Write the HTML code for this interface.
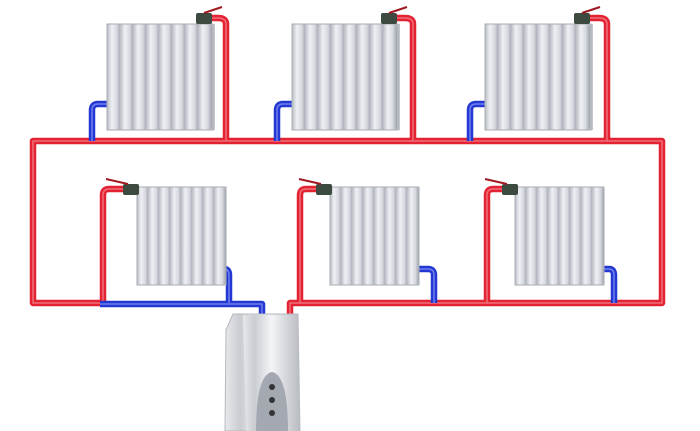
<!DOCTYPE html>
<html><head><meta charset="utf-8"><style>html,body{margin:0;padding:0;background:#fff}svg{display:block}</style></head>
<body>
<svg width="700" height="431" viewBox="0 0 700 431" xmlns="http://www.w3.org/2000/svg">
<defs>
<linearGradient id="sec" x1="0" x2="1" y1="0" y2="0">
<stop offset="0" stop-color="#b9bcc4"/><stop offset="0.35" stop-color="#eef0f4"/><stop offset="0.7" stop-color="#d6d9df"/><stop offset="1" stop-color="#9da1aa"/>
</linearGradient>
<linearGradient id="boil" x1="0" x2="1" y1="0" y2="0">
<stop offset="0" stop-color="#e8e9ec"/><stop offset="0.2" stop-color="#c9ccd1"/><stop offset="0.5" stop-color="#f4f5f7"/><stop offset="1" stop-color="#b8bbc1"/>
</linearGradient>
<g id="rad">
<rect x="0" y="0" width="108" height="106" fill="#c4c7cd"/>
<rect x="0" y="0" width="14" height="106" rx="3" fill="url(#sec)"/>
<rect x="13" y="0" width="14" height="106" rx="3" fill="url(#sec)"/>
<rect x="26" y="0" width="14" height="106" rx="3" fill="url(#sec)"/>
<rect x="39" y="0" width="14" height="106" rx="3" fill="url(#sec)"/>
<rect x="52" y="0" width="14" height="106" rx="3" fill="url(#sec)"/>
<rect x="65" y="0" width="14" height="106" rx="3" fill="url(#sec)"/>
<rect x="78" y="0" width="14" height="106" rx="3" fill="url(#sec)"/>
<rect x="91" y="0" width="14" height="106" rx="3" fill="url(#sec)"/>
<rect x="0" y="0" width="106" height="106" fill="none" stroke="#a8abb2" stroke-width="1"/>
</g>
<g id="radb">
<rect x="0" y="0" width="88" height="98" fill="#c4c7cd"/>
<rect x="0" y="0" width="12" height="98" rx="3" fill="url(#sec)"/>
<rect x="11" y="0" width="12" height="98" rx="3" fill="url(#sec)"/>
<rect x="22" y="0" width="12" height="98" rx="3" fill="url(#sec)"/>
<rect x="33" y="0" width="12" height="98" rx="3" fill="url(#sec)"/>
<rect x="44" y="0" width="12" height="98" rx="3" fill="url(#sec)"/>
<rect x="55" y="0" width="12" height="98" rx="3" fill="url(#sec)"/>
<rect x="66" y="0" width="12" height="98" rx="3" fill="url(#sec)"/>
<rect x="77" y="0" width="12" height="98" rx="3" fill="url(#sec)"/>
<rect x="0" y="0" width="89" height="98" fill="none" stroke="#a8abb2" stroke-width="1"/>
</g>
<g id="red">
<path d="M100 303 H33 V141 H662 V303 H290 V316"/>
<path d="M226 141 V24 Q226 18 218 18 H205"/>
<path d="M413 141 V24 Q413 18 405 18 H392"/>
<path d="M607 141 V24 Q607 18 599 18 H586"/>
<path d="M103 303 V195 Q103 189 109 189 H125"/>
<path d="M300 303 V195 Q300 189 306 189 H320"/>
<path d="M487 303 V195 Q487 189 493 189 H507"/>
</g>
<g id="blue">
<path d="M262 316 V304 H100"/>
<path d="M92 141 V110 Q92 104 98 104 H108"/>
<path d="M277 141 V110 Q277 104 283 104 H293"/>
<path d="M470 141 V110 Q470 104 476 104 H486"/>
<path d="M222 269 H224 Q229 269 229 275 V303"/>
<path d="M415 269 H428 Q434 269 434 275 V303"/>
<path d="M600 269 H609 Q614 269 614 275 V303"/>
</g>
</defs>
<g fill="none" stroke-linejoin="round">
<use href="#red" stroke="#e32232" stroke-width="6.5"/>
<use href="#red" stroke="#f0707a" stroke-width="1.5"/>
<use href="#blue" stroke="#2338d2" stroke-width="6.5"/>
<use href="#blue" stroke="#7080ee" stroke-width="1.5"/>
</g>
<use href="#rad" x="107" y="24"/>
<use href="#rad" x="292" y="24"/>
<use href="#rad" x="485" y="24"/>
<use href="#radb" x="137" y="187"/>
<use href="#radb" x="330" y="187"/>
<use href="#radb" x="515" y="187"/>
<g fill="#3d4a3f">
<rect x="196" y="13" width="16" height="11" rx="2"/>
<rect x="381" y="13" width="16" height="11" rx="2"/>
<rect x="574" y="13" width="16" height="11" rx="2"/>
<rect x="123" y="184" width="16" height="11" rx="2"/>
<rect x="316" y="184" width="16" height="11" rx="2"/>
<rect x="502" y="184" width="16" height="11" rx="2"/>
</g>
<g stroke="#a01820" stroke-width="2">
<line x1="204" y1="13" x2="222" y2="7"/>
<line x1="389" y1="13" x2="407" y2="7"/>
<line x1="582" y1="13" x2="600" y2="7"/>
<line x1="128" y1="184" x2="106" y2="179"/>
<line x1="321" y1="184" x2="299" y2="179"/>
<line x1="507" y1="184" x2="485" y2="179"/>
</g>
<path d="M233 314 L298 314 L300 431 L225 431 L226 330 Z" fill="url(#boil)" stroke="#b5b8be"/>
<path d="M243 315 L298 315 L300 431 L246 431 Z" fill="url(#boil)"/>
<path d="M256 431 Q256 375 272 372 Q288 375 288 431 Z" fill="#a4a8b0"/>
<circle cx="272" cy="387" r="3" fill="#333"/>
<circle cx="272" cy="400" r="3" fill="#333"/>
<circle cx="272" cy="413" r="3" fill="#333"/>
</svg>
</body></html>
